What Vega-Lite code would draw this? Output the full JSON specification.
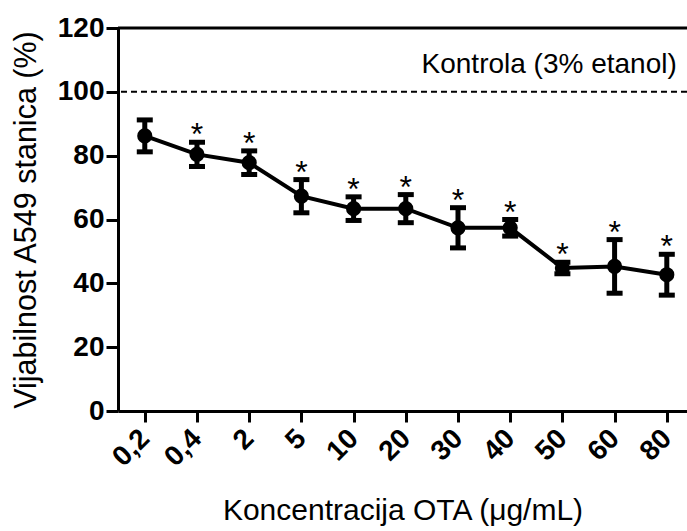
{
  "$schema": "https://vega.github.io/schema/vega-lite/v6.json",
  "autosize": "none",
  "padding": {"left": 118, "top": 28, "right": 0, "bottom": 120},
  "width": 569,
  "height": 383,
  "background": "white",
  "config": {"view": {"stroke": null}, "font": "Liberation Sans"},
  "datasets": {
    "main": [
      {"conc": "0,2", "v": 86.2, "lo": 81.2, "hi": 91.2, "star": ""},
      {"conc": "0,4", "v": 80.4, "lo": 76.6, "hi": 84.2, "star": "*"},
      {"conc": "2", "v": 77.8, "lo": 74.1, "hi": 81.5, "star": "*"},
      {"conc": "5", "v": 67.3, "lo": 62.1, "hi": 72.5, "star": "*"},
      {"conc": "10", "v": 63.4, "lo": 59.7, "hi": 67.1, "star": "*"},
      {"conc": "20", "v": 63.4, "lo": 59.0, "hi": 67.8, "star": "*"},
      {"conc": "30", "v": 57.4, "lo": 51.1, "hi": 63.7, "star": "*"},
      {"conc": "40", "v": 57.4, "lo": 54.8, "hi": 60.0, "star": "*"},
      {"conc": "50", "v": 44.8, "lo": 43.0, "hi": 46.6, "star": "*"},
      {"conc": "60", "v": 45.3, "lo": 36.9, "hi": 53.7, "star": "*"},
      {"conc": "80", "v": 42.7, "lo": 36.3, "hi": 49.1, "star": "*"}
    ],
    "control": [{"conc": "80", "v": 100, "label": "Kontrola (3% etanol)"}],
    "frame": [{"v": 120}]
  },
  "layer": [
    {
      "data": {"name": "frame"},
      "mark": {"type": "rule", "color": "black", "strokeWidth": 3},
      "encoding": {"y": {"field": "v", "type": "quantitative", "scale": {"domain": [0, 120], "nice": false}}}
    },
    {
      "data": {"name": "control"},
      "mark": {"type": "rule", "color": "black", "strokeWidth": 2, "strokeDash": [6, 4]},
      "encoding": {"y": {"field": "v", "type": "quantitative"}}
    },
    {
      "data": {"name": "control"},
      "mark": {"type": "text", "align": "right", "baseline": "alphabetic", "dx": 10, "dy": -19, "fontSize": 28, "color": "black"},
      "encoding": {
        "x": {"field": "conc", "type": "ordinal"},
        "y": {"field": "v", "type": "quantitative"},
        "text": {"field": "label"}
      }
    },
    {
      "data": {"name": "main"},
      "mark": {"type": "line", "color": "black", "strokeWidth": 4},
      "encoding": {
        "x": {
          "field": "conc", "type": "ordinal", "sort": null,
          "scale": {"type": "point", "domain": ["0,2", "0,4", "2", "5", "10", "20", "30", "40", "50", "60", "80"], "padding": 0.45, "align": 0.57},
          "axis": {
            "title": "Koncentracija OTA (μg/mL)",
            "titleFontSize": 30, "titleFontWeight": "normal", "titleColor": "black", "titlePadding": 24,
            "labelAngle": -45, "labelFontSize": 28, "labelFontWeight": "bold", "labelColor": "black", "labelPadding": 12,
            "domainColor": "black", "domainWidth": 3, "tickColor": "black", "tickWidth": 3, "tickSize": 11, "grid": false
          }
        },
        "y": {
          "field": "v", "type": "quantitative",
          "scale": {"domain": [0, 120], "nice": false},
          "axis": {
            "title": "Vijabilnost A549 stanica (%)", "values": [0, 20, 40, 60, 80, 100, 120],
            "titleFontSize": 30.5, "titleFontWeight": "normal", "titleColor": "black", "titlePadding": 16,
            "labelFontSize": 28, "labelFontWeight": "bold", "labelColor": "black", "labelPadding": 2,
            "domainColor": "black", "domainWidth": 3, "tickColor": "black", "tickWidth": 3, "tickSize": 12, "grid": false
          }
        }
      }
    },
    {
      "data": {"name": "main"},
      "mark": {"type": "rule", "color": "black", "strokeWidth": 5},
      "encoding": {
        "x": {"field": "conc", "type": "ordinal"},
        "y": {"field": "lo", "type": "quantitative"},
        "y2": {"field": "hi"}
      }
    },
    {
      "data": {"name": "main"},
      "mark": {"type": "tick", "color": "black", "size": 16, "thickness": 5, "opacity": 1},
      "encoding": {
        "x": {"field": "conc", "type": "ordinal"},
        "y": {"field": "lo", "type": "quantitative"}
      }
    },
    {
      "data": {"name": "main"},
      "mark": {"type": "tick", "color": "black", "size": 16, "thickness": 5, "opacity": 1},
      "encoding": {
        "x": {"field": "conc", "type": "ordinal"},
        "y": {"field": "hi", "type": "quantitative"}
      }
    },
    {
      "data": {"name": "main"},
      "mark": {"type": "circle", "color": "black", "size": 230, "opacity": 1},
      "encoding": {
        "x": {"field": "conc", "type": "ordinal"},
        "y": {"field": "v", "type": "quantitative"}
      }
    },
    {
      "data": {"name": "main"},
      "mark": {"type": "text", "color": "black", "fontSize": 32, "baseline": "alphabetic", "dy": 3},
      "encoding": {
        "x": {"field": "conc", "type": "ordinal"},
        "y": {"field": "hi", "type": "quantitative"},
        "text": {"field": "star"}
      }
    }
  ]
}
